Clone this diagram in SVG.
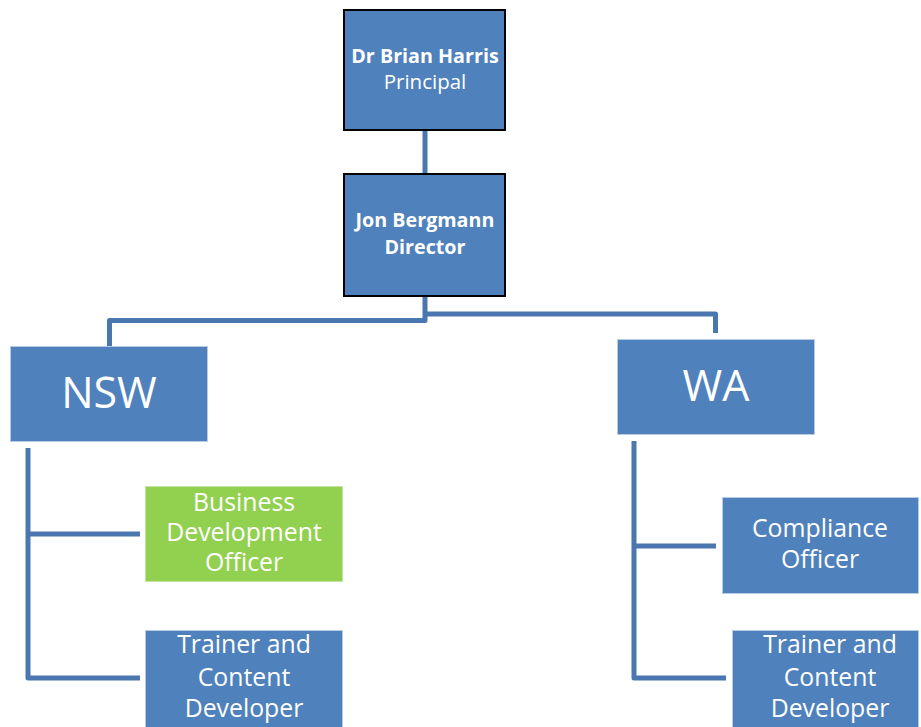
<svg xmlns="http://www.w3.org/2000/svg" width="921" height="727" viewBox="0 0 921 727">
<style>
.conn{fill:none;stroke:#4A77B0;stroke-width:5;stroke-linejoin:round;stroke-linecap:butt}
.top{fill:#4F81BD;stroke:#000;stroke-width:2}
.box{fill:#4F81BD;stroke:#B7CBE4;stroke-width:1}
.green{fill:#92D050;stroke:#C6E6A6;stroke-width:1}
text{font-family:"Open Sans","Liberation Sans",sans-serif;fill:#fff;text-anchor:middle}
.b{font-weight:bold;font-size:19.7px}
.r18{font-size:20.5px}
.big{font-size:43px}
.m{font-size:24.8px}
</style>
<g id="connectors">
<path class="conn" d="M425,130 V174"/>
<path class="conn" d="M425,296 V320.5 H109.5 V346"/>
<path class="conn" d="M425,314 H715.5 V333"/>
<path class="conn" d="M28,448 V678 H140"/>
<path class="conn" d="M28,534 H140"/>
<path class="conn" d="M634,441 V678 H726"/>
<path class="conn" d="M634,546 H716"/>
</g>
<g id="principal">
<rect class="top" x="344" y="10" width="161" height="120"/>
<text class="b" x="425" y="63">Dr Brian Harris</text>
<text class="r18" x="425" y="89">Principal</text>
</g>
<g id="director">
<rect class="top" x="344" y="174" width="161" height="122"/>
<text class="b" x="425" y="227">Jon Bergmann</text>
<text class="b" x="425" y="254">Director</text>
</g>
<g id="nsw">
<rect class="box" x="10.5" y="346.5" width="197" height="95"/>
<text class="big" x="109" y="408">NSW</text>
</g>
<g id="wa">
<rect class="box" x="617.5" y="339.5" width="197" height="95"/>
<text class="big" x="716" y="401">WA</text>
</g>
<g id="bdo">
<rect class="green" x="145.5" y="486.5" width="197" height="95"/>
<text class="m" x="244" y="511">Business</text>
<text class="m" x="244" y="541">Development</text>
<text class="m" x="244" y="571">Officer</text>
</g>
<g id="nsw-trainer">
<rect class="box" x="145.5" y="630.5" width="197" height="100"/>
<text class="m" x="244" y="653">Trainer and</text>
<text class="m" x="244" y="686">Content</text>
<text class="m" x="244" y="717">Developer</text>
</g>
<g id="compliance">
<rect class="box" x="722.5" y="497.5" width="196" height="96"/>
<text class="m" x="820" y="537">Compliance</text>
<text class="m" x="820" y="568">Officer</text>
</g>
<g id="wa-trainer">
<rect class="box" x="732.5" y="630.5" width="186" height="100"/>
<text class="m" x="830" y="653">Trainer and</text>
<text class="m" x="830" y="686">Content</text>
<text class="m" x="830" y="717">Developer</text>
</g>
</svg>
